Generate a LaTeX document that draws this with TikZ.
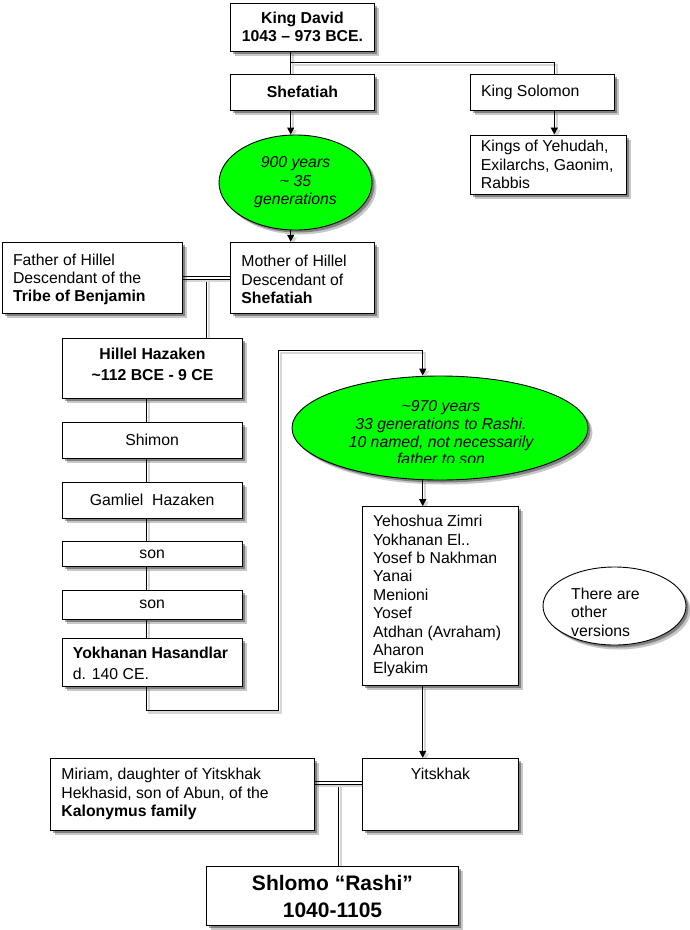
\documentclass[tikz,border=0pt]{standalone}
\usepackage{fontspec}
\setmainfont{Liberation Sans}
\usetikzlibrary{arrows.meta,shadows,calc,shapes.geometric}
\newcommand\fnorm{\fontsize{15.8}{18.4}\selectfont}
\pgfdeclarelayer{bg}
\pgfsetlayers{bg,main}
\tikzset{
  shadowed/.style={drop shadow={shadow xshift=4.5pt,shadow yshift=-4.5pt,opacity=0.22,fill=black},
                   drop shadow={shadow xshift=2.5pt,shadow yshift=-2.5pt,opacity=0.35,fill=black}},
  box/.style={draw, fill=white, line width=1pt, inner sep=0pt, align=center, font=\fnorm, shadowed},
  oval/.style={ellipse, draw, line width=0.9pt, inner sep=0pt, shadowed},
  txt/.style={inner sep=0pt, align=left, font=\fnorm, anchor=west},
  lshadow/.style={preaction={draw=black!16, line width=2.5pt, transform canvas={shift={(2.5pt,-2.5pt)}}}},
  conn/.style={draw, line width=0.9pt, lshadow},
  arr/.style={conn, -{Triangle[width=7pt,length=7pt]}},
  dbl/.style={draw, line width=0.9pt, double=white, double distance=1.8pt, lshadow},
}
\begin{document}
\begin{tikzpicture}[x=1pt,y=-1pt]
\useasboundingbox (0,0) rectangle (690,930);
\begin{pgfonlayer}{bg}
\fill[white] (0,0) rectangle (690,930);
\end{pgfonlayer}

% --- top
\node[box, minimum width=143.6pt, minimum height=48pt, font=\fnorm\bfseries] (david) at (302.5,27) {King David\\1043 – 973 BCE.};
\node[box, minimum width=143.6pt, minimum height=36pt, font=\fnorm\bfseries] (shef) at (302.5,92) {Shefatiah};
\node[box, minimum width=144pt, minimum height=36pt] (solomon) at (542.3,92) {};
\node[txt] (solomont) at ($(solomon.west)+(11,0)$) {King Solomon};
\node[box, minimum width=156.5pt, minimum height=59pt] (kings) at (548.5,164.5) {};
\node[txt] (kingst) at ($(kings.west)+(11,0)$) {Kings of Yehudah,\\Exilarchs, Gaonim,\\Rabbis};

\node[oval, fill=green, minimum width=153pt, minimum height=95pt, font=\fnorm\itshape, align=center] (ell1) at (295.5,182.5) {900 years\\\textasciitilde{} 35\\generations};

\node[box, minimum width=179.5pt, minimum height=71.5pt] (father) at (92.5,278) {};
\node[txt] (fathert) at ($(father.west)+(10.6,1.5)$) {Father of Hillel\\Descendant of the\\\textbf{Tribe of Benjamin}};
\node[box, minimum width=143.6pt, minimum height=71.5pt] (mother) at (302.5,278) {};
\node[txt] (mothert) at ($(mother.west)+(11,1.5)$) {Mother of Hillel\\Descendant of\\\textbf{Shefatiah}};

% --- Hillel chain
\node[box, minimum width=180pt, minimum height=60pt] (hillel) at (152.2,368) {};
\node[inner sep=0pt, align=center, font=\fnorm\bfseries] (hillelt) at (152.5,364) {Hillel Hazaken\\[2.6pt]\textasciitilde112 BCE - 9 CE};
\node[box, minimum width=180pt, minimum height=36pt] (shimon) at (152.2,440) {Shimon};
\node[box, minimum width=180pt, minimum height=36pt] (gamliel) at (152.2,500) {Gamliel~ Hazaken};
\node[box, minimum width=180pt, minimum height=24.7pt] (son1) at (152.2,554.3) {\raisebox{-2pt}{son}};
\node[box, minimum width=180pt, minimum height=29pt] (son2) at (152.2,604.5) {\raisebox{-1pt}{son}};
\node[box, minimum width=180pt, minimum height=48pt] (yokh) at (152.2,662) {};
\node[txt] (yokht) at ($(yokh.west)+(11,1)$) {\textbf{Yokhanan Hasandlar}\\[2.6pt]d. 140 CE.};

% --- right column
\node[oval, fill=green, minimum width=296pt, minimum height=104pt] (ell2) at (440,428) {};
\begin{scope}
\clip (0,0) rectangle (690,462.5);
\node[inner sep=0pt, align=center, font=\fontsize{15.8}{17.7}\selectfont\itshape] (ell2t) at (441,433) {\textasciitilde970 years\\33 generations to Rashi.\\10 named, not necessarily\\father to son};
\end{scope}

\node[box, minimum width=156pt, minimum height=179.3pt] (list) at (440.7,596.3) {};
\node[txt] (listt) at ($(list.west)+(10.7,0)$) {Yehoshua Zimri\\Yokhanan El..\\Yosef b Nakhman\\Yanai\\Menioni\\Yosef\\Atdhan (Avraham)\\Aharon\\Elyakim};

\node[oval, fill=white, minimum width=143pt, minimum height=78pt] (other) at (614.5,606) {};
\node[txt] (othert) at (571,612) {There are\\other\\versions};

% --- bottom
\node[box, minimum width=264.3pt, minimum height=71.7pt] (miriam) at (182.2,794.2) {};
\node[txt] (miriamt) at ($(miriam.west)+(11.7,0)$) {\fontsize{15.8}{19}\selectfont Miriam, daughter of Yitskhak\\Hekhasid, son of Abun, of the\\\textbf{Kalonymus family}};
\node[box, minimum width=156pt, minimum height=71.7pt] (yits) at (440.3,794.2) {};
\node[inner sep=0pt, font=\fnorm] (yitst) at (440.5,773.5) {Yitskhak};
\node[box, minimum width=251.6pt, minimum height=58.3pt, font=\fontsize{21}{27}\selectfont\bfseries] (rashi) at (332.5,896) {Shlomo “Rashi”\\1040-1105};

% --- connectors
\begin{pgfonlayer}{bg}
\coordinate (xA) at (290.7,0);
\coordinate (j1) at (290.7,62.3);
\coordinate (j2) at (554.3,62.3);
\draw[conn] (david.south -| xA) -- (shef.north -| xA);
\draw[conn] (j1) -- (j2) -- (j2 |- solomon.north);
\draw[arr] (solomon.south -| j2) -- (kings.north -| j2);
\draw[arr] (shef.south -| xA) -- (xA |- ell1.north);
\draw[arr] (ell1.south -| xA) -- (mother.north -| xA);

\coordinate (fm) at ($(father.east)!0.5!(mother.west)$);
\draw[conn] (fm) -- (fm |- hillel.north);
\draw[dbl] (father.east) -- (mother.west);

\coordinate (xC) at (146.7,0);
\draw[conn] (hillel.south -| xC) -- (shimon.north -| xC);
\draw[conn] (shimon.south -| xC) -- (gamliel.north -| xC);
\draw[conn] (gamliel.south -| xC) -- (son1.north -| xC);
\draw[conn] (son1.south -| xC) -- (son2.north -| xC);
\draw[conn] (son2.south -| xC) -- (yokh.north -| xC);

\coordinate (b1) at (146.7,710);
\coordinate (b2) at (278.3,710);
\coordinate (b3) at (278.3,350.5);
\coordinate (b4) at (422.7,350.5);
\draw[arr] (yokh.south -| b1) -- (b1) -- (b2) -- (b3) -- (b4) -- (b4 |- ell2.north);
\draw[arr] (ell2.south -| b4) -- (list.north -| b4);
\draw[arr] (list.south -| b4) -- (yits.north -| b4);

\coordinate (my) at ($(miriam.east)!0.5!(yits.west)+(0,-11.2)$);
\draw[conn] (my) -- (my |- rashi.north);
\draw[dbl] (miriam.east |- my) -- (yits.west |- my);
\end{pgfonlayer}
\end{tikzpicture}
\end{document}
